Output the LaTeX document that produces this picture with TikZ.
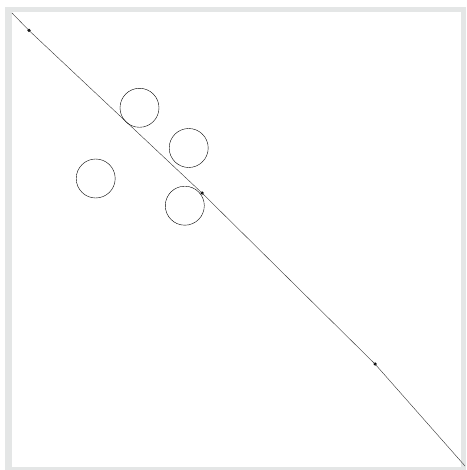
\documentclass[tikz,border=0pt]{standalone}
\definecolor{framegray}{RGB}{228,230,230}
\begin{document}
\begin{tikzpicture}[x=1pt,y=-1pt,
  ring/.style={draw,circle,thin,minimum size=39pt,inner sep=0pt},
  pt/.style={fill,circle,inner sep=0pt,minimum size=3.5pt},
  ln/.style={thin,draw=black!80}]
  \useasboundingbox (0,0) rectangle (466,470);
  % frame
  \fill[framegray] (5,7) rectangle (466,470);
  \fill[white] (12,12) rectangle (461,467);
  % line and points on it
  \coordinate (start) at (12,13);
  \coordinate (end) at (465,466);
  \node[pt] (p1) at (29,30.5) {};
  \node[pt] (p2) at (202,193) {};
  \node[pt] (p3) at (375,364) {};
  \draw[ln] (start) -- (p1.center) -- (p2.center) -- (p3.center) -- (end);
  % circles
  \node[ring] (c1) at (139.5,107.8) {};
  \node[ring] (c2) at (188.7,148) {};
  \node[ring] (c3) at (95.7,178.5) {};
  \node[ring] (c4) at (184.8,205.7) {};
\end{tikzpicture}
\end{document}
